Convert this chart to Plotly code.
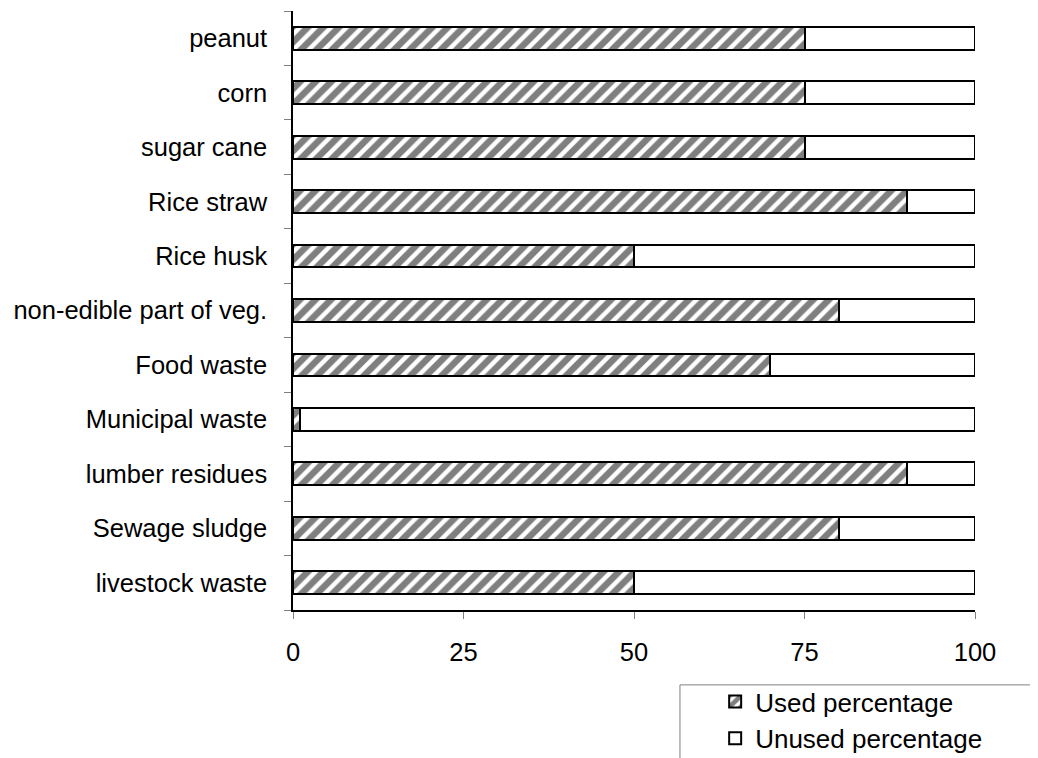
import plotly.graph_objects as go

categories = ["livestock waste", "Sewage sludge", "lumber residues", "Municipal waste",
              "Food waste", "non-edible part of veg.", "Rice husk", "Rice straw",
              "sugar cane", "corn", "peanut"]
used = [50, 80, 90, 1, 70, 80, 50, 90, 75, 75, 75]
unused = [100 - u for u in used]
x_ticks = [0, 25, 50, 75, 100]

FONT = "Liberation Sans, Arial, sans-serif"

fig = go.Figure()
fig.add_trace(go.Bar(
    y=categories, x=used, orientation="h", name="Used percentage",
    marker=dict(color="white", line=dict(color="black", width=2),
                pattern=dict(shape="/", fgcolor="black", bgcolor="white",
                             size=11, solidity=0.6)),
))
fig.add_trace(go.Bar(
    y=categories, x=unused, orientation="h", name="Unused percentage",
    marker=dict(color="white", line=dict(color="black", width=2)),
))

fig.update_layout(
    width=1038, height=758,
    barmode="stack", bargap=0.58,
    plot_bgcolor="white", paper_bgcolor="white",
    margin=dict(l=285, r=71, t=3, b=156, autoexpand=False),
    font=dict(family=FONT, size=25.5, color="black"),
    xaxis=dict(range=[0, 100], tickvals=x_ticks, ticks="outside", ticklen=7,
               tickcolor="#808080", showline=True, linecolor="black", linewidth=1.5,
               showgrid=False, zeroline=False, ticklabelstandoff=12,
               tickfont=dict(size=25.5)),
    yaxis=dict(categoryorder="array", categoryarray=categories, ticks="outside",
               tickson="boundaries", ticklen=7, tickcolor="#808080",
               showline=True, linecolor="black", linewidth=1.5, showgrid=False,
               ticklabelstandoff=19, tickfont=dict(size=25.5)),
    legend=dict(x=0.619, y=-0.1135, xanchor="left", yanchor="top",
                traceorder="normal", bgcolor="rgba(0,0,0,0)", borderwidth=0,
                font=dict(size=26, color="black")),
    showlegend=True,
)

fig.add_shape(type="rect", xref="paper", yref="paper",
              x0=0.5674, x1=1.2, y0=-0.125, y1=-0.35,
              line=dict(color="#808080", width=1), fillcolor="rgba(0,0,0,0)",
              layer="below")

fig.write_html("out.html")
